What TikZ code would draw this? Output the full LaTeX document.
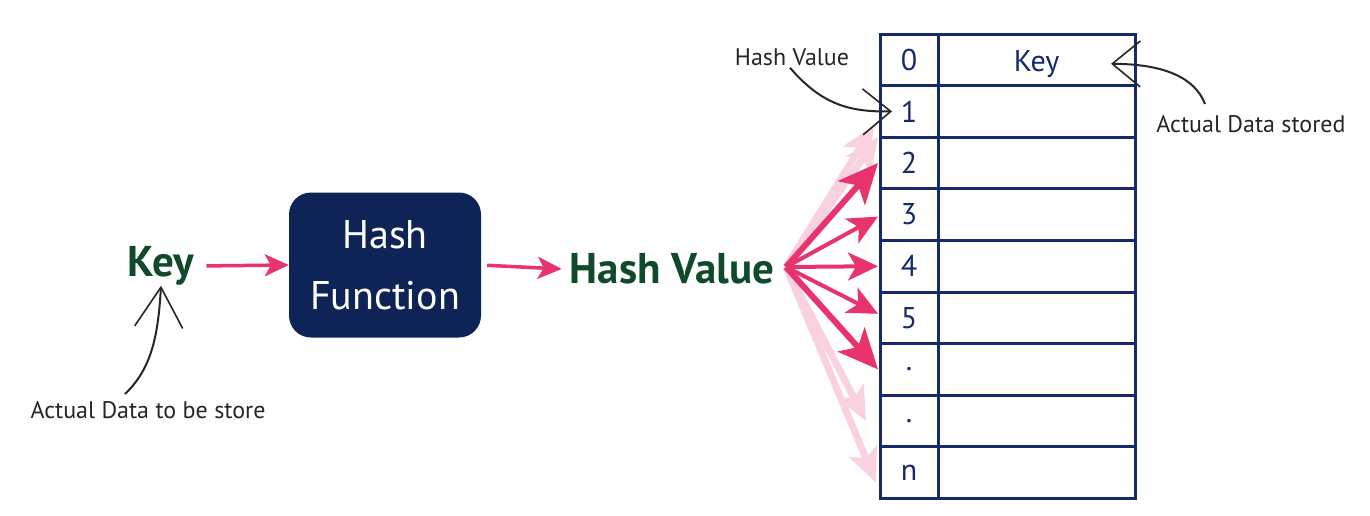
\documentclass[tikz,border=0pt]{standalone}
\usepackage{fontspec}
\setmainfont{PT Sans}
\usetikzlibrary{arrows.meta}
\definecolor{navy}{HTML}{15296B}
\definecolor{boxblue}{HTML}{0E2456}
\definecolor{pinkarr}{HTML}{E8336D}
\definecolor{keygreen}{HTML}{0F4A2A}
\definecolor{txtgray}{HTML}{262626}
\tikzset{
  idx/.style={draw=navy, line width=3, minimum width=58, minimum height=51.6, inner sep=0, outer sep=0, text=navy, font=\fontsize{30}{30}\selectfont},
  val/.style={draw=navy, line width=3, minimum width=197, minimum height=51.6, inner sep=0, outer sep=0, text=navy, font=\fontsize{30}{30}\selectfont},
  bigword/.style={text=keygreen, font=\fontsize{43}{43}\selectfont\bfseries, inner sep=4},
  fbox/.style={fill=boxblue, rounded corners=22, minimum width=192, minimum height=145, text=white, align=center, font=\fontsize{40}{61}\selectfont},
  note/.style={text=txtgray, font=\fontsize{24}{24}\selectfont, inner sep=2},
  flow/.style={draw=pinkarr, line width=3.5, -{Stealth[length=24, width=22, inset=6]}},
  fan/.style={draw=pinkarr, line width=4, -{Stealth[length=30, width=28, inset=8]}},
  fanbig/.style={draw=pinkarr, line width=6, -{Stealth[length=40, width=36, inset=10]}},
  fanfaint/.style={draw=pinkarr!22, line width=7, -{Stealth[length=34, width=30, inset=8]}},
  annot/.style={draw=black!85, line width=2, -{Straight Barb[length=28, width=46, line width=1.6]}},
  annotbig/.style={draw=black!85, line width=2, -{Straight Barb[length=40, width=48, line width=1.6]}},
}
\begin{document}
\begin{tikzpicture}[x=1pt,y=-1pt]
\useasboundingbox (0,0) rectangle (1370,515);

% table
\foreach \i/\lab in {0/0,1/1,2/2,3/3,4/4,5/5,6/.,7/.,8/n}{
  \node[idx] (i\i) at (909, 59.8+51.6*\i) {\lab};
  \node[val] (v\i) at (1036.5, 59.8+51.6*\i) {};
}
\node[text=navy, font=\fontsize{30}{30}\selectfont] (vk) at ([yshift=-4]v0.center) {Key};

% main flow
\node[bigword] (key) at (161,266) {Key};
\node[fbox] (hf) at (385,265) {Hash\\Function};
\node[bigword, inner sep=8] (hv) at (672,269) {Hash Value};

\draw[flow, shorten <=8] (key.east) -- (hf.west);
\draw[flow, shorten <=6] (hf.east) -- (hv.west);

% fan arrows
\coordinate (fo) at (786,267);
\draw[fanfaint] (fo) -- ([xshift=-6,yshift=-14]i1.west);
\draw[fanfaint] (fo) -- ([xshift=-2]i1.south west);
\draw[fanfaint] (fo) -- ([xshift=-14]i7.west);
\draw[fanfaint] (fo) -- ([xshift=-4,yshift=-10]i8.west);
\draw[fanbig] (fo) -- ([xshift=-2]i2.west);
\draw[fan] (fo) -- ([xshift=-2,yshift=-2]i3.west);
\draw[fan] (fo) -- ([xshift=-2]i4.west);
\draw[fan] (fo) -- ([xshift=-2,yshift=4]i5.west);
\draw[fanbig] (fo) -- ([xshift=-2]i6.west);

% annotations
\node[note] (nhv) at (792,57) {Hash Value};
\node[note] (nads) at (1251,124) {Actual Data stored};
\node[note] (nadb) at (148,410) {Actual Data to be store};

\draw[annot] ([xshift=-2]nhv.south) .. controls (822,105) and (850,112) .. ([xshift=12]i1.west);
\draw[annot] (1205,104) .. controls (1195,78) and (1165,64) .. ([xshift=-24,yshift=-4]v0.east);
\draw[annotbig] (125,394) .. controls (150,370) and (158,340) .. ([yshift=4]key.south);
\end{tikzpicture}
\end{document}
